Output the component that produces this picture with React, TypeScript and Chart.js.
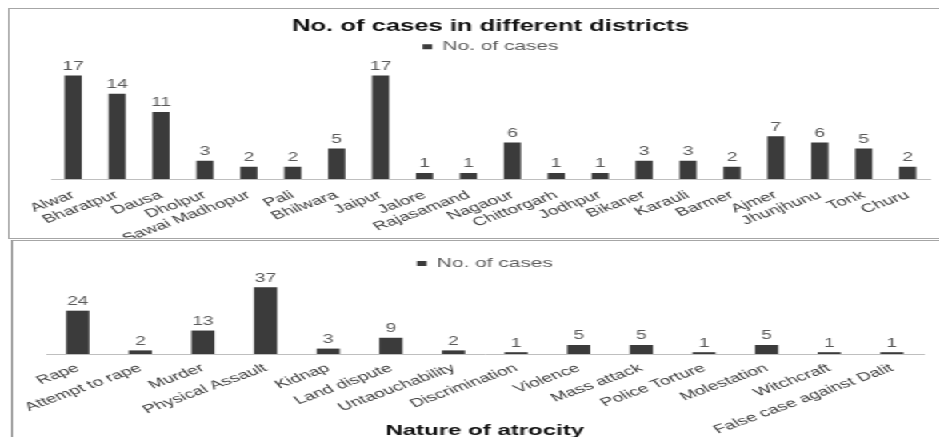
import React, { useEffect, useRef } from "react";
import { Chart, registerables } from "chart.js";

Chart.register(...registerables);

// ---- data ----
const districts = [
  "Alwar", "Bharatpur", "Dausa", "Dholpur", "Sawai Madhopur", "Pali", "Bhilwara",
  "Jaipur", "Jalore", "Rajasamand", "Nagaour", "Chittorgarh", "Jodhpur", "Bikaner",
  "Karauli", "Barmer", "Ajmer", "Jhunjhunu", "Tonk", "Churu",
];
const districtCases = [17, 14, 11, 3, 2, 2, 5, 17, 1, 1, 6, 1, 1, 3, 3, 2, 7, 6, 5, 2];

const atrocities = [
  "Rape", "Attempt to rape", "Murder", "Physical Assault", "Kidnap", "Land dispute",
  "Untaouchability", "Discrimination", "Violence", "Mass attack", "Police Torture",
  "Molestation", "Witchcraft", "False case against Dalit",
];
const atrocityCases = [24, 2, 13, 37, 3, 9, 2, 1, 5, 5, 1, 5, 1, 1];

const seriesName = "No. of cases";
const topTitle = "No. of cases in different districts";
const bottomAxisTitle = "Nature of atrocity";

// ---- style ----
const STRETCH = 1.6;
const FONT = "'Liberation Sans', Arial, sans-serif";
const BAR = "#3b3b3b";

const valueLabels = {
  id: "valueLabels",
  afterDatasetsDraw(chart: any) {
    const ctx = chart.ctx;
    ctx.save();
    ctx.font = `12px ${FONT}`;
    ctx.fillStyle = "#595959";
    ctx.textAlign = "center";
    ctx.textBaseline = "bottom";
    chart.data.datasets.forEach((ds: any, i: number) => {
      chart.getDatasetMeta(i).data.forEach((bar: any, j: number) => {
        ctx.fillText(String(ds.data[j]), bar.x, bar.y - 3);
      });
    });
    ctx.restore();
  },
};

type Cfg = {
  labels: string[];
  values: number[];
  yMax: number;
  padding: { left: number; right: number; top: number; bottom: number };
  barPct: number;
  axisHeight: number;
  legendPadding: number;
  tickPadding: number;
  title?: string;
  axisTitle?: string;
};

function makeChart(canvas: HTMLCanvasElement, c: Cfg) {
  return new Chart(canvas, {
    type: "bar",
    data: {
      labels: c.labels,
      datasets: [
        {
          label: seriesName,
          data: c.values,
          backgroundColor: BAR,
          borderWidth: 0,
          categoryPercentage: 1,
          barPercentage: c.barPct,
        },
      ],
    },
    options: {
      responsive: false,
      animation: false,
      layout: { padding: c.padding },
      plugins: {
        title: {
          display: !!c.title,
          text: c.title || "",
          color: "#111111",
          font: { family: FONT, size: 16, weight: "bold" },
          padding: { top: 8, bottom: 0 },
        },
        legend: {
          display: true,
          position: "top",
          labels: {
            color: "#595959",
            font: { family: FONT, size: 13 },
            boxWidth: 6,
            boxHeight: 5,
            padding: c.legendPadding,
          },
        },
        tooltip: { enabled: false },
      },
      scales: {
        x: {
          grid: { display: false, drawTicks: false },
          border: { display: true, color: "#bfbfbf", width: 1 },
          ticks: {
            color: "#383838",
            font: { family: FONT, size: 12 },
            minRotation: 30,
            maxRotation: 30,
            autoSkip: false,
            padding: c.tickPadding,
            labelOffset: 0,
          },
          title: {
            display: !!c.axisTitle,
            text: c.axisTitle || "",
            color: "#111111",
            font: { family: FONT, size: 15, weight: "bold" },
            padding: { top: 0, bottom: 0 },
          },
          afterFit: (scale: any) => {
            scale.height = c.axisHeight;
          },
        },
        y: {
          display: false,
          min: 0,
          max: c.yMax,
        },
      },
    },
    plugins: [valueLabels],
  });
}

export default function App() {
  const topRef = useRef<HTMLCanvasElement>(null);
  const botRef = useRef<HTMLCanvasElement>(null);

  useEffect(() => {
    const a = makeChart(topRef.current!, {
      labels: districts,
      values: districtCases,
      yMax: 19,
      padding: { left: 26, right: 21, top: 0, bottom: 0 },
      barPct: 0.39,
      axisHeight: 59,
      legendPadding: 4,
      tickPadding: 9,
      title: topTitle,
    });
    const b = makeChart(botRef.current!, {
      labels: atrocities,
      values: atrocityCases,
      yMax: 41,
      padding: { left: 21, right: 25, top: 10, bottom: 0 },
      barPct: 0.37,
      axisHeight: 86,
      legendPadding: 6,
      tickPadding: 7,
      axisTitle: bottomAxisTitle,
    });
    return () => {
      a.destroy();
      b.destroy();
    };
  }, []);

  return (
    <div
      style={{
        position: "fixed",
        left: 0,
        top: 0,
        width: 939,
        height: 437,
        overflow: "hidden",
        background: "#ffffff",
      }}
    >
      <div
        style={{
          position: "absolute",
          left: 0,
          top: 0,
          width: 939 / STRETCH,
          height: 437,
          transform: `scaleX(${STRETCH})`,
          transformOrigin: "0 0",
        }}
      >
        <div
          style={{
            position: "absolute",
            left: 5,
            top: 8,
            width: 598,
            height: 231,
            boxSizing: "border-box",
            border: "1px solid #a6a6a6",
            overflow: "hidden",
          }}
        >
          <canvas ref={topRef} width={596} height={229} style={{ display: "block" }} />
        </div>
        <div
          style={{
            position: "absolute",
            left: 7,
            top: 240,
            width: 596,
            height: 200,
            boxSizing: "border-box",
            borderTop: "1px solid #a6a6a6",
            borderLeft: "1.5px solid #8c8c8c",
            overflow: "hidden",
          }}
        >
          <canvas ref={botRef} width={594} height={199} style={{ display: "block" }} />
        </div>
      </div>
    </div>
  );
}
